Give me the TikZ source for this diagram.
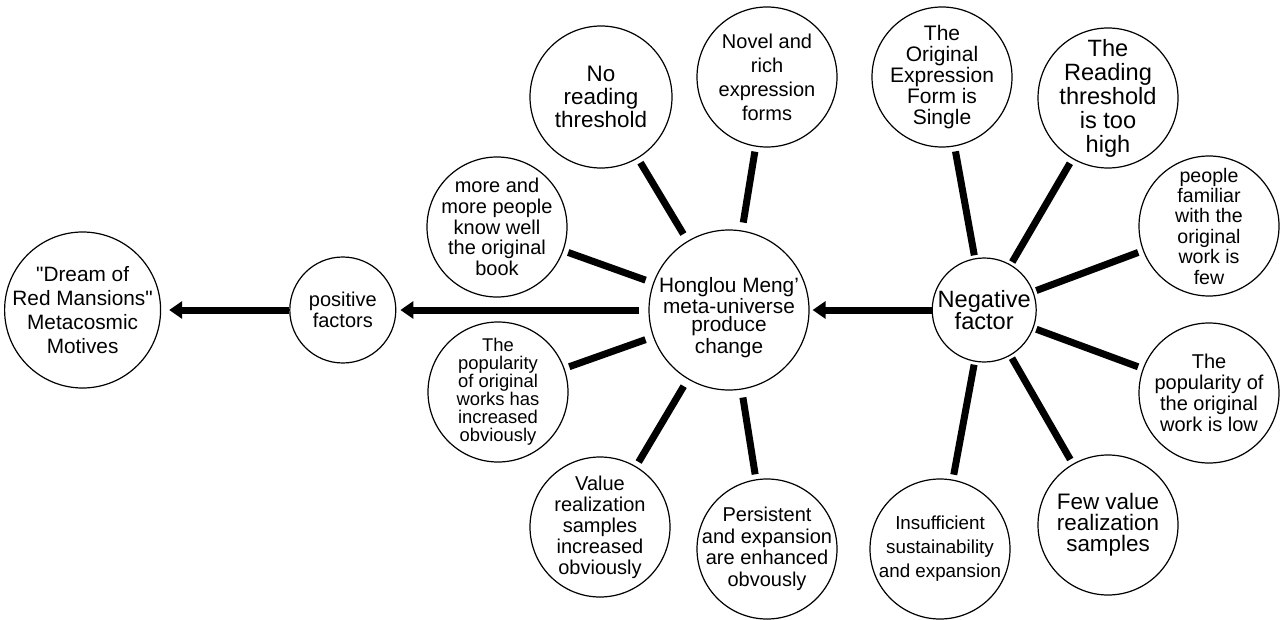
\documentclass[tikz,border=0pt]{standalone}
\usepackage{fontspec}
\setmainfont{Liberation Sans}[Ligatures=TeXOff]
\usetikzlibrary{positioning, arrows.meta}

\begin{document}
\begin{tikzpicture}[x=0.5pt, y=-0.5pt,
    every node/.style={font=\fontsize{10}{10.5}\selectfont},
    bub/.style={circle, draw=black, line width=0.6pt, inner sep=-18pt,
      minimum size=70pt, align=center},
    spoke/.style={line width=3.5pt, shorten <=#1, shorten >=2.5pt},
    spoke/.default=4pt,
    arr/.style={-{Triangle[length=6.5pt, width=8.5pt]}, line width=3.5pt}]
  \useasboundingbox (0,0) rectangle (1283,620);
  % main row
  \node[bub, minimum size=80pt, font=\fontsize{10.4}{9}\selectfont]
    (meng) at (729,310) {\rule{0pt}{15pt}Honglou Meng’\\meta-universe\\produce\\change};
  \node[bub, minimum size=53pt, left=126pt of meng] (pos) {positive\\factors};
  \node[bub, minimum size=78pt, left=64pt of pos, font=\fontsize{10.4}{12}\selectfont]
    (dream) {"Dream of\\Red Mansions"\\Metacosmic\\Motives};
  \node[bub, minimum size=52pt, right=61pt of meng, font=\fontsize{11.8}{11}\selectfont]
    (neg) {Negative\\factor};
  % positive side
  \node[bub, minimum size=71pt, font=\fontsize{11.2}{11.5}\selectfont]
    (noread) at (601,97) {No\\reading\\threshold};
  \node[bub, font=\fontsize{10}{12}\selectfont] (novel) at (767,77)
    {Novel and\\rich\\expression\\forms};
  \node[bub, font=\fontsize{10}{10.3}\selectfont] (more) at (497,227)
    {more and\\more people\\know well\\the original\\book};
  \node[bub, font=\fontsize{9.2}{9}\selectfont] (popup) at (498,392)
    {The\\popularity\\of original\\works has\\increased\\obviously};
  \node[bub] (value) at (600,527)
    {Value\\realization\\samples\\increased\\obviously};
  \node[bub, font=\fontsize{10}{10.8}\selectfont] (persist) at (767,549)
    {Persistent\\and expansion\\are enhanced\\obvously};
  % negative side
  \node[bub, font=\fontsize{10.5}{10.5}\selectfont] (single) at (942,77)
    {The\\Original\\Expression\\Form is\\Single};
  \node[bub, font=\fontsize{11.8}{12}\selectfont] (high) at (1108,98)
    {The\\Reading\\threshold\\is too\\high};
  \node[bub, font=\fontsize{9.8}{10.2}\selectfont] (familiar) at (1209,226)
    {people\\familiar\\with the\\original\\work is\\few};
  \node[bub] (poplow) at (1209,393)
    {The\\popularity of\\the original\\work is low};
  \node[bub, font=\fontsize{11.2}{10.5}\selectfont] (few) at (1108,525)
    {Few value\\realization\\samples};
  \node[bub, font=\fontsize{9.4}{12}\selectfont] (insuff) at (940,549)
    {Insufficient\\sustainability\\and expansion};
  % connectors
  \foreach \s in {noread, novel, more, popup, value, persist}
    \draw[spoke] (meng) -- (\s);
  \foreach \s in {single, high, familiar, poplow, few, insuff}
    \draw[spoke=1.5pt] (neg) -- (\s);
  \draw[arr, shorten >=1.5pt] (neg) -- (meng);
  \draw[arr, shorten <=4.5pt, shorten >=2pt] (meng) -- (pos);
  \draw[arr, shorten >=4pt] (pos) -- (dream);
\end{tikzpicture}
\end{document}
